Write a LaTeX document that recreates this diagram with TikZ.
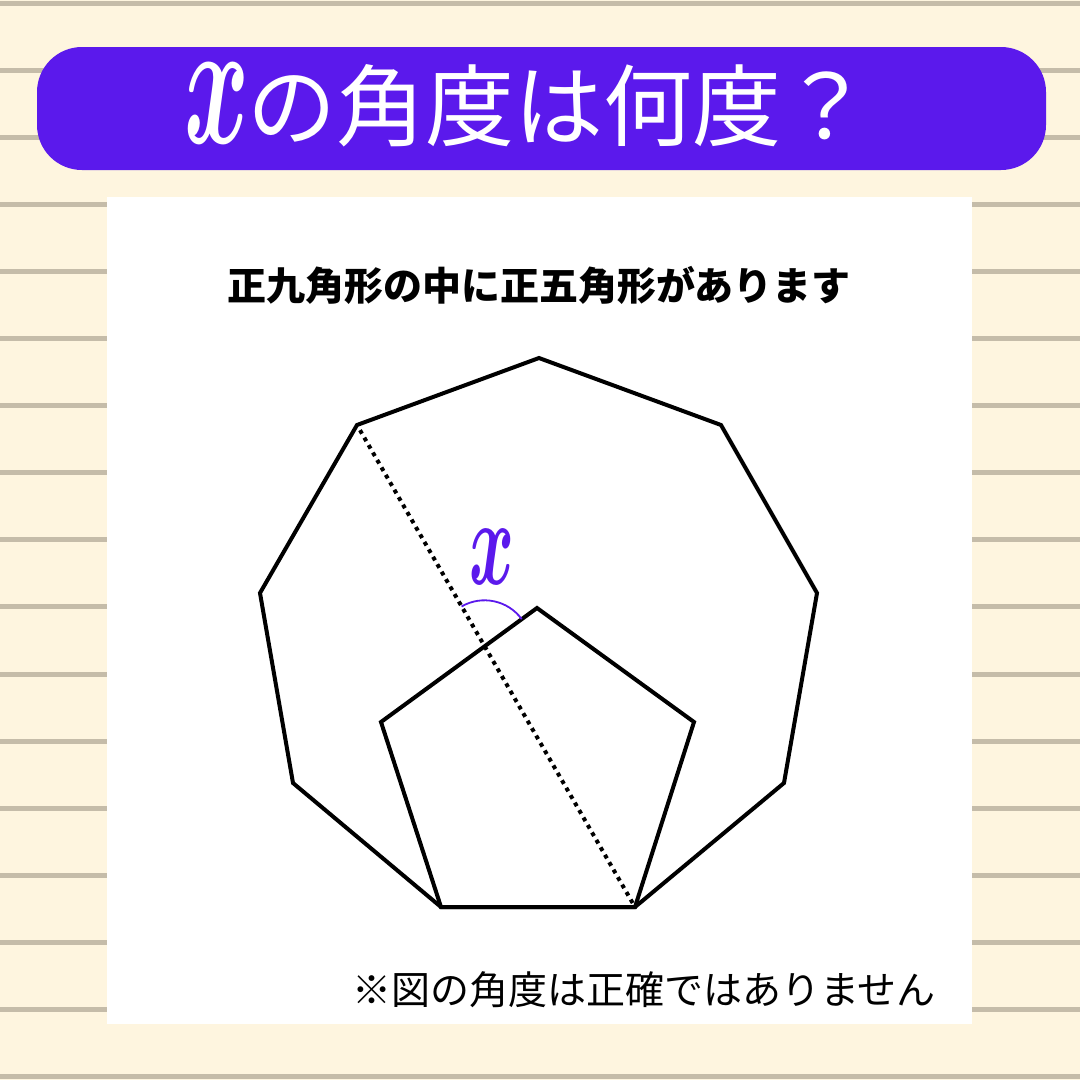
\documentclass[tikz,border=0pt]{standalone}
\usepackage{fontspec}
\usepackage{graphicx}
\usetikzlibrary{calc}
\newfontfamily\jp{Noto Sans CJK JP}
\definecolor{cream}{HTML}{FEF5DF}
\definecolor{rule}{HTML}{C5BCA9}
\definecolor{purp}{HTML}{5B19EC}
\tikzset{
  poly/.style={line width=4pt, line join=miter},
  dots/.style={line width=4pt, dash pattern=on 4pt off 4.6pt},
  anglearc/.style={purp, line width=1.8pt},
}
\begin{document}
\begin{tikzpicture}[x=1pt,y=-1pt]
\useasboundingbox (0,0) rectangle (1080,1080);
\fill[cream] (0,0) rectangle (1080,1080);
\foreach \k in {0,...,16} {
  \fill[rule] (0,{0.5+67.1*\k}) rectangle (1080,{5.5+67.1*\k});
}
% banner
\fill[purp, rounded corners=45pt] (37,47) rectangle (1046,170);
\node[white, inner sep=0pt] (tx) at (217,103) {\resizebox{65pt}{80pt}{\boldmath$x$}};
\node[white, inner sep=0pt, anchor=west, font=\jp\fontsize{89}{89}\selectfont] (title) at (247,106) {の角度は何度？};
% panel
\fill[white] (107,197) rectangle (972,1024);
\node[inner sep=0pt, font=\jp\bfseries\fontsize{39}{39}\selectfont] (sub) at (539,285) {正九角形の中に正五角形があります};
\node[inner sep=0pt, font=\jp\fontsize{39}{39}\selectfont] (note) at (644,990) {※図の角度は正確ではありません};
% nonagon
\coordinate (n1) at (539,358);
\coordinate (n2) at (721,425);
\coordinate (n3) at (817,593);
\coordinate (n4) at (784,783);
\coordinate (n5) at (635,907);
\coordinate (n6) at (441,907);
\coordinate (n7) at (293,783);
\coordinate (n8) at (260,593);
\coordinate (n9) at (357,425);
\draw[poly] (n1)--(n2)--(n3)--(n4)--(n5)--(n6)--(n7)--(n8)--(n9)--cycle;
% pentagon
\coordinate (p1) at (537,608);
\coordinate (p2) at (694,722);
\coordinate (p5) at (381,722);
\draw[poly] (n6)--(n5)--(p2)--(p1)--(p5)--cycle;
% diagonal
\draw[dots] ($(n9)!6pt!(n5)$)--(n5);
% angle
\coordinate (I) at (484.6,646.3);
\draw[anglearc] ($(I)+(-120:46)$) arc[start angle=-120, end angle=-36.2, radius=46];
\node[purp, inner sep=0pt] (xl) at (492,557) {\resizebox{45pt}{55pt}{\boldmath$x$}};
\end{tikzpicture}
\end{document}
